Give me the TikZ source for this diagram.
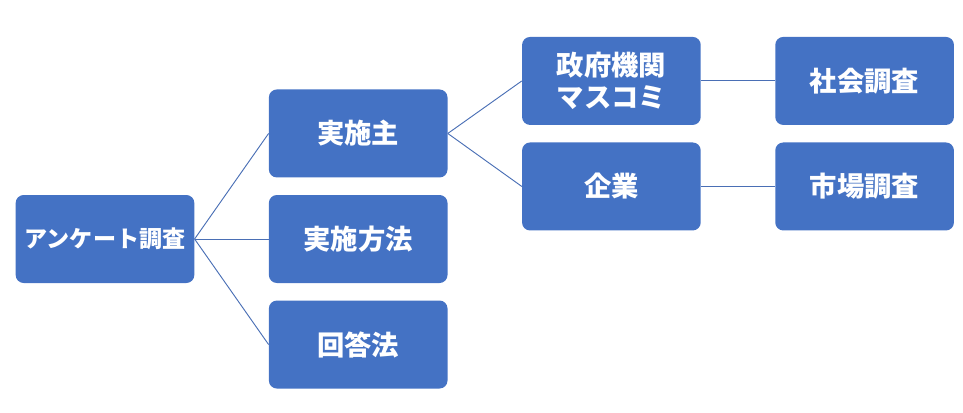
\documentclass[tikz,border=0pt]{standalone}
\usepackage{fontspec}
\setmainfont{Noto Sans CJK JP}
\usetikzlibrary{positioning}
\definecolor{boxblue}{HTML}{4472C4}
\definecolor{linkblue}{HTML}{4A6FB5}

\begin{document}
\begin{tikzpicture}[
    font=\fontsize{20.5}{24}\selectfont\bfseries,
    node distance=12.75pt and 55.5pt,
    topicbox/.style={
        fill=boxblue, rounded corners=6pt,
        minimum height=66pt, minimum width=134pt, align=center,
        text=white, inner sep=2pt,
    },
    link/.style={draw=linkblue, line width=0.7pt},
]

% fix the margins of the picture
\useasboundingbox (-78.75pt,-129.75pt) rectangle (643.5pt,179.25pt);

% root on the left
\node[topicbox, font=\fontsize{17.3}{20}\selectfont\bfseries] (survey) at (0,0) {アンケート調査};

% first level
\node[topicbox, right=of survey] (method) {実施方法};
\node[topicbox, above=of method] (host) {実施主};
\node[topicbox, below=of method] (answer) {回答法};

% second level, under the host
\node[topicbox, right=of host, yshift=39.4pt] (govt) {政府機関\\マスコミ};
\node[topicbox, below=of govt] (company) {企業};

% third level
\node[topicbox, right=of govt] (social) {社会調査};
\node[topicbox, right=of company] (market) {市場調査};

% connectors
\draw[link] (survey.east) -- (host.west);
\draw[link] (survey.east) -- (method.west);
\draw[link] (survey.east) -- (answer.west);
\draw[link] (host.east) -- (govt.west);
\draw[link] (host.east) -- (company.west);
\draw[link] (govt) -- (social);
\draw[link] (company) -- (market);

\end{tikzpicture}
\end{document}
